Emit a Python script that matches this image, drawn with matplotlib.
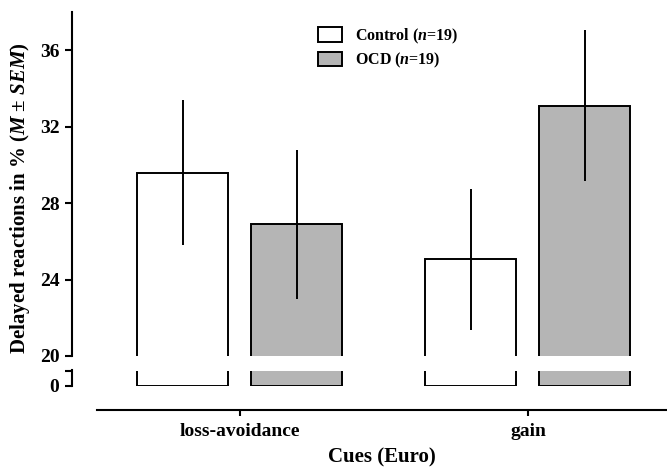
import matplotlib.pyplot as plt
import numpy as np
from matplotlib.patches import Patch

cues = ['loss-avoidance', 'gain']
control_mean = [29.6, 25.05]
control_sem = [3.8, 3.7]
ocd_mean = [26.9, 33.1]
ocd_sem = [3.9, 3.95]
groups = ['Control ($n$=19)', 'OCD ($n$=19)']

plt.rcParams['font.family'] = ['Liberation Serif', 'DejaVu Serif']
plt.rcParams['font.weight'] = 'bold'
plt.rcParams['mathtext.fontset'] = 'custom'
plt.rcParams['mathtext.it'] = 'Liberation Serif:italic:bold'
plt.rcParams['mathtext.rm'] = 'Liberation Serif:bold'
plt.rcParams['mathtext.bf'] = 'Liberation Serif:bold'

W, H = 667, 467
fig = plt.figure(figsize=(W / 100, H / 100), dpi=100)

def box(l, t, r, b):
    return [l / W, 1 - b / H, (r - l) / W, (b - t) / H]

x = np.arange(len(cues))
bw = 0.316
off = 0.198
xlim = (-0.583, 1.483)
gray = '#b5b5b5'
lw = 1.4

ax_up = fig.add_axes(box(72, 12, 667, 356))
ax_lo = fig.add_axes(box(72, 371, 667, 386))
ax_x = fig.add_axes(box(97, 400, 667, 410))

for ax in (ax_up, ax_lo):
    ax.bar(x - off, control_mean, bw, color='white', edgecolor='black', linewidth=lw)
    ax.bar(x + off, ocd_mean, bw, color=gray, edgecolor='black', linewidth=lw)
    ax.set_xlim(*xlim)
    for s in ['top', 'right', 'bottom']:
        ax.spines[s].set_visible(False)
    ax.spines['left'].set_linewidth(1.5)
    ax.set_xticks([])
    ax.tick_params(axis='y', direction='out', length=5, width=1.5, labelsize=14, pad=4)

ax_up.errorbar(x - off, control_mean, yerr=control_sem, fmt='none', ecolor='black', elinewidth=1.4, capsize=0)
ax_up.errorbar(x + off, ocd_mean, yerr=ocd_sem, fmt='none', ecolor='black', elinewidth=1.4, capsize=0)
ax_up.set_ylim(20, 38)
ax_up.set_yticks([20, 24, 28, 32, 36])

ax_lo.set_ylim(0, 1)
ax_lo.set_yticks([0, 1])
ax_lo.set_yticklabels(['0', ''])
ax_lo.spines['left'].set_bounds(0, 1.05)

ax_x.set_xlim(-0.497, 1.483)
ax_x.set_ylim(0, 1)
for s in ['top', 'right', 'left']:
    ax_x.spines[s].set_visible(False)
ax_x.spines['bottom'].set_linewidth(1.5)
ax_x.set_yticks([])
ax_x.set_xticks(x)
ax_x.set_xticklabels(cues)
ax_x.tick_params(axis='x', direction='out', length=4, width=1.5, labelsize=14, pad=5)
ax_x.patch.set_visible(False)
ax_x.set_xlabel('Cues (Euro)', fontsize=15, fontweight='bold', labelpad=6)

handles = [Patch(facecolor='white', edgecolor='black', linewidth=1.4),
           Patch(facecolor=gray, edgecolor='black', linewidth=1.4)]
ax_up.legend(handles, groups, loc='upper left', bbox_to_anchor=(0.39, 1.0),
             frameon=False, fontsize=11.5, handlelength=1.5, handleheight=1.0,
             labelspacing=0.35, handletextpad=0.8)

fig.text(20 / W, 1 - 198 / H, 'Delayed reactions in % ($M$ ± $SEM$)', rotation=90,
         ha='center', va='center', fontsize=15, fontweight='bold')

fig.savefig('out.png', dpi=100)
